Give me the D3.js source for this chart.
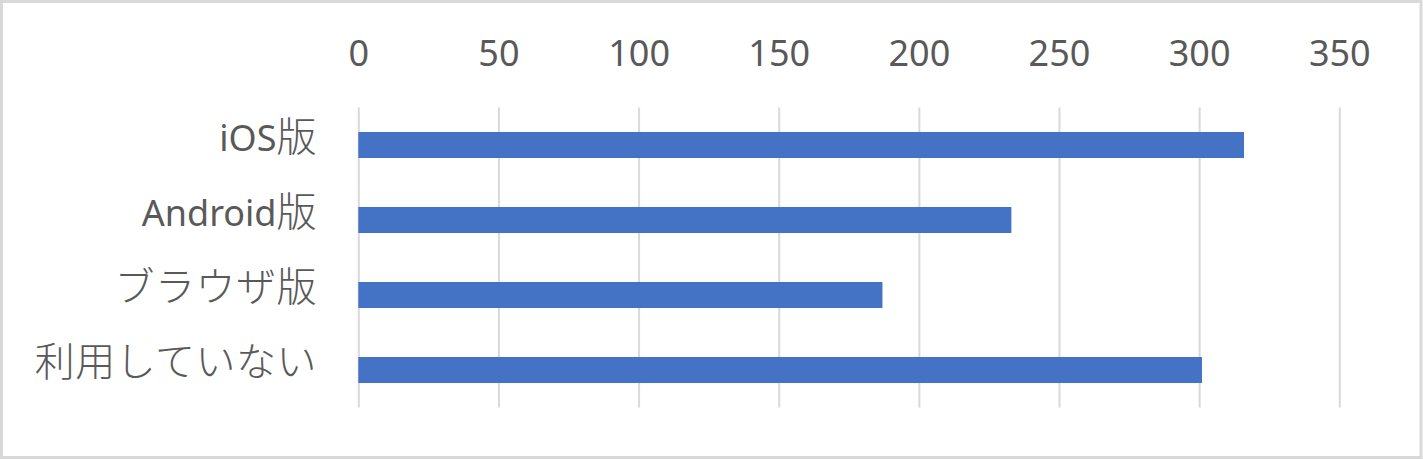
<!DOCTYPE html>
<html>
<head>
<meta charset="utf-8">
<script src="https://cdn.jsdelivr.net/npm/d3@7"></script>
<style>
  html, body { margin: 0; padding: 0; background: #fff; }
  svg { display: block; }
</style>
</head>
<body>
<svg id="chart" width="1423" height="460"></svg>
<script>
const categories = ["iOS版", "Android版", "ブラウザ版", "利用していない"];
const values = [316, 233, 187, 301];
const tickValues = [0, 50, 100, 150, 200, 250, 300, 350];

const W = 1423, H = 460;
const svg = d3.select("#chart");

// outer border
svg.append("rect")
  .attr("x", 1.5).attr("y", 1.5)
  .attr("width", W - 3.5).attr("height", H - 4)
  .attr("fill", "#fff")
  .attr("stroke", "#d9d9d9")
  .attr("stroke-width", 3);

const x = d3.scaleLinear().domain([0, 350]).range([358.3, 1339.3]);
const y = d3.scaleBand().domain(categories).range([107.5, 407.5])
  .paddingInner(0.653).paddingOuter(0.3265);

// gridlines
const gx = svg.append("g").attr("transform", `translate(0,${107.5})`)
  .call(d3.axisTop(x).tickValues(tickValues).tickSize(-300).tickFormat(""));
gx.select(".domain").remove();
gx.selectAll(".tick line").attr("stroke", "#d9d9d9").attr("stroke-width", 2);

// tick labels
const lx = svg.append("g").attr("transform", `translate(0,${66})`)
  .call(d3.axisTop(x).tickValues(tickValues).tickSize(0).tickPadding(0));
lx.select(".domain").remove();
lx.selectAll(".tick text")
  .attr("fill", "#595959")
  .style("font-family", "'Noto Sans', 'Noto Sans CJK JP', sans-serif")
  .style("font-size", "36px")
  .attr("dy", 0);

// bars
svg.append("g").selectAll("rect")
  .data(categories)
  .join("rect")
  .attr("x", x(0))
  .attr("y", d => y(d))
  .attr("width", (d, i) => x(values[i]) - x(0))
  .attr("height", y.bandwidth())
  .attr("fill", "#4472c4");

// category labels (latin 36px, CJK 40px light)
const isCJK = ch => /[\u3000-\u9fff\uff00-\uffef]/.test(ch);
const labels = svg.append("g");
categories.forEach(c => {
  const t = labels.append("text")
    .attr("x", 317)
    .attr("y", y(c) + y.bandwidth() / 2)
    .attr("dy", "0.36em")
    .attr("text-anchor", "end")
    .attr("fill", "#595959");
  const runs = [];
  for (const ch of c) {
    const cj = isCJK(ch);
    if (runs.length && runs[runs.length - 1].cj === cj) runs[runs.length - 1].s += ch;
    else runs.push({ s: ch, cj });
  }
  runs.forEach(r => {
    t.append("tspan")
      .text(r.s)
      .style("font-family", r.cj ? "'Noto Sans CJK JP', sans-serif" : "'Noto Sans', 'Noto Sans CJK JP', sans-serif")
      .style("font-weight", r.cj ? 300 : 400)
      .style("letter-spacing", r.cj ? "0.5px" : "0px")
      .style("font-size", r.cj ? "40px" : "36px");
  });
});
</script>
</body>
</html>
